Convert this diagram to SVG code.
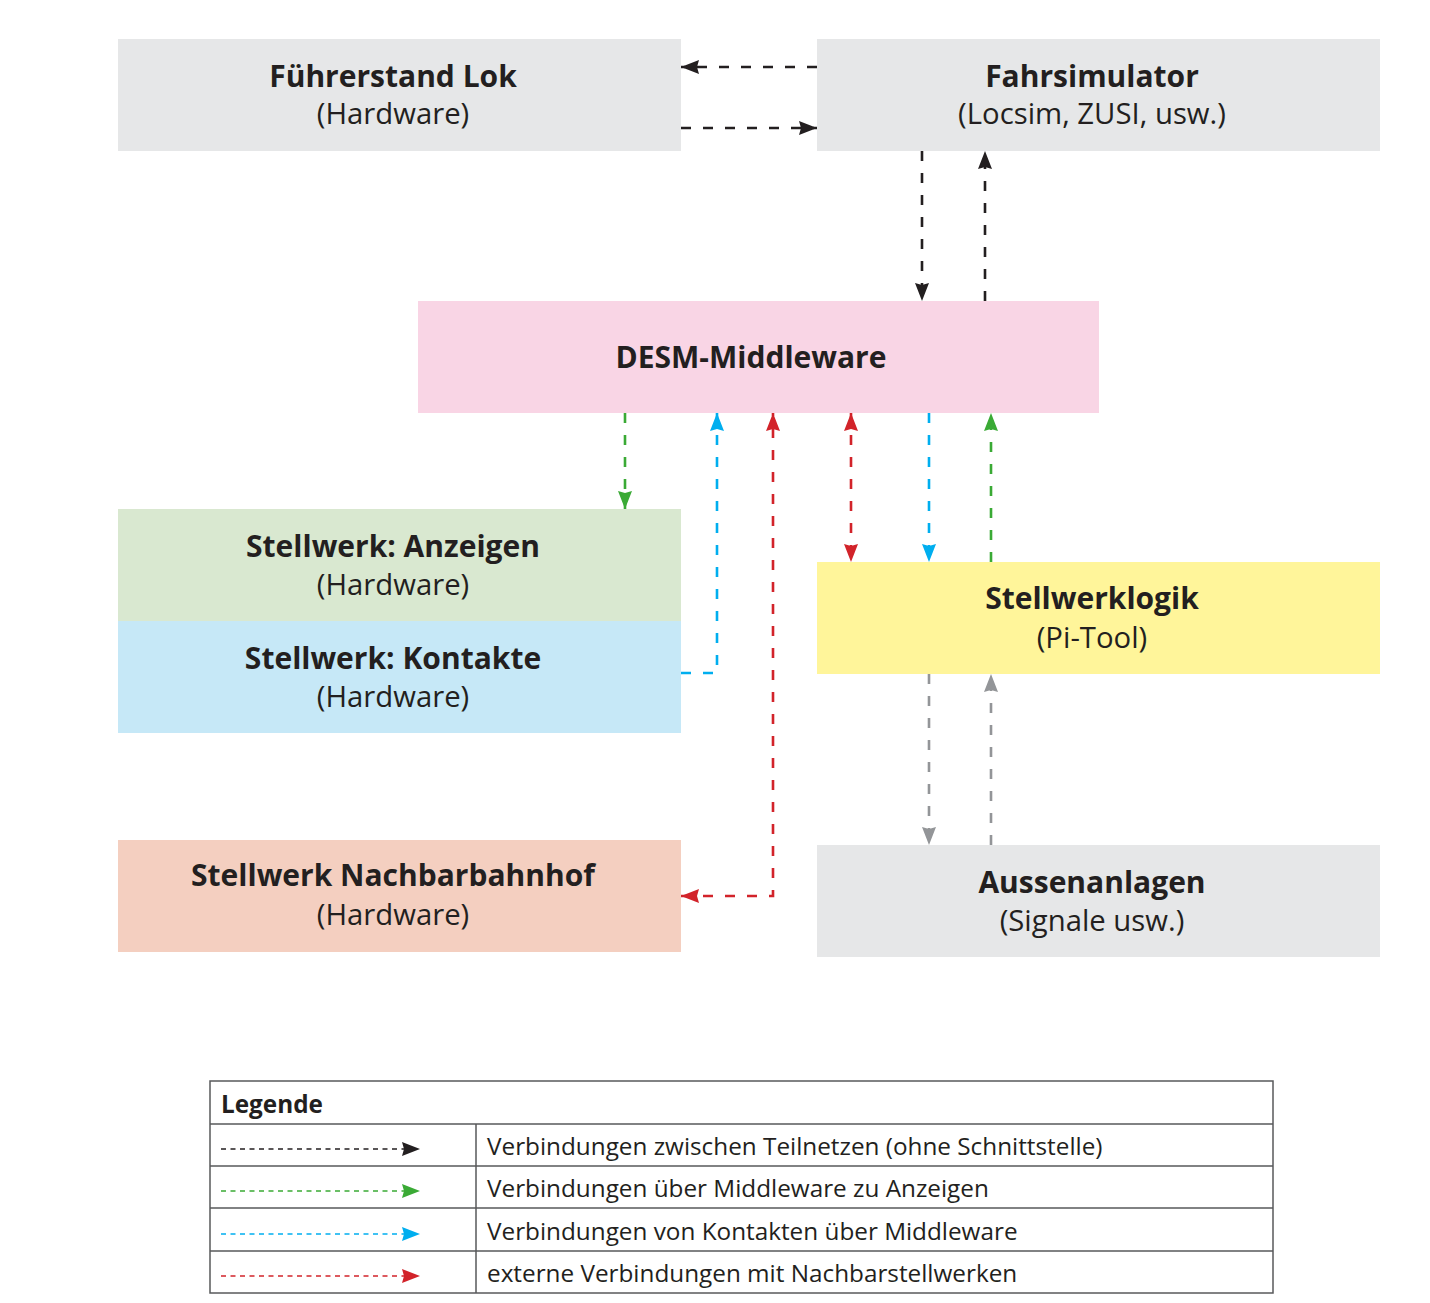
<svg xmlns="http://www.w3.org/2000/svg" width="1430" height="1303" viewBox="0 0 1430 1303">
<style>
.t{font-family:"Open Sans","Noto Sans",sans-serif;font-weight:700;font-size:30px;fill:#231f20;text-anchor:middle}
.s{font-family:"Open Sans","Noto Sans",sans-serif;font-weight:400;font-size:29.3px;fill:#231f20;text-anchor:middle}
.l{font-family:"Open Sans","Noto Sans",sans-serif;font-weight:400;font-size:24.3px;fill:#231f20}
.c{fill:none;stroke-width:2.6;stroke-dasharray:10 12}
.lg{fill:none;stroke-width:1.6;stroke-dasharray:5 4.5}
.k{stroke:#231f20}.g{stroke:#3aaa35}.b{stroke:#00aeef}.r{stroke:#d2232a}.y{stroke:#939598}
.grid{fill:none;stroke:#58595b;stroke-width:1.5}
</style>
<defs>
<marker id="ak" viewBox="0 0 18 14" refX="18" refY="7" markerWidth="18" markerHeight="14" markerUnits="userSpaceOnUse" orient="auto-start-reverse"><path d="M0,0L18,7L0,14L2,7z" fill="#231f20"/></marker>
<marker id="ag" viewBox="0 0 18 14" refX="18" refY="7" markerWidth="18" markerHeight="14" markerUnits="userSpaceOnUse" orient="auto-start-reverse"><path d="M0,0L18,7L0,14L2,7z" fill="#3aaa35"/></marker>
<marker id="ab" viewBox="0 0 18 14" refX="18" refY="7" markerWidth="18" markerHeight="14" markerUnits="userSpaceOnUse" orient="auto-start-reverse"><path d="M0,0L18,7L0,14L2,7z" fill="#00aeef"/></marker>
<marker id="ar" viewBox="0 0 18 14" refX="18" refY="7" markerWidth="18" markerHeight="14" markerUnits="userSpaceOnUse" orient="auto-start-reverse"><path d="M0,0L18,7L0,14L2,7z" fill="#d2232a"/></marker>
<marker id="ay" viewBox="0 0 18 14" refX="18" refY="7" markerWidth="18" markerHeight="14" markerUnits="userSpaceOnUse" orient="auto-start-reverse"><path d="M0,0L18,7L0,14L2,7z" fill="#939598"/></marker>
</defs>
<rect width="1430" height="1303" fill="#fff"/>
<g id="fuehrerstand"><rect x="118" y="39" width="563" height="112" fill="#e6e7e8"/><text class="t" x="393" y="87">Führerstand Lok</text><text class="s" x="393" y="124">(Hardware)</text></g>
<g id="fahrsimulator"><rect x="817" y="39" width="563" height="112" fill="#e6e7e8"/><text class="t" x="1092" y="87">Fahrsimulator</text><text class="s" x="1092" y="124">(Locsim, ZUSI, usw.)</text></g>
<g id="middleware"><rect x="418" y="301" width="681" height="112" fill="#f9d5e5"/><text class="t" x="751" y="368">DESM-Middleware</text></g>
<g id="anzeigen"><rect x="118" y="509" width="563" height="112" fill="#d9e8d0"/><text class="t" x="393" y="557">Stellwerk: Anzeigen</text><text class="s" x="393" y="595">(Hardware)</text></g>
<g id="kontakte"><rect x="118" y="621" width="563" height="112" fill="#c6e8f7"/><text class="t" x="393" y="669">Stellwerk: Kontakte</text><text class="s" x="393" y="707">(Hardware)</text></g>
<g id="stellwerklogik"><rect x="817" y="562" width="563" height="112" fill="#fff59a"/><text class="t" x="1092" y="609">Stellwerklogik</text><text class="s" x="1092" y="648">(Pi-Tool)</text></g>
<g id="nachbarbahnhof"><rect x="118" y="840" width="563" height="112" fill="#f4cfc0"/><text class="t" x="393" y="886">Stellwerk Nachbarbahnhof</text><text class="s" x="393" y="925">(Hardware)</text></g>
<g id="aussenanlagen"><rect x="817" y="845" width="563" height="112" fill="#e6e7e8"/><text class="t" x="1092" y="893">Aussenanlagen</text><text class="s" x="1092" y="931">(Signale usw.)</text></g>
<g id="connectors">
<path class="c k" d="M817,67H681" marker-end="url(#ak)"/>
<path class="c k" d="M681,128H817" marker-end="url(#ak)"/>
<path class="c k" d="M922,151V301" marker-end="url(#ak)"/>
<path class="c k" d="M985,301V151" marker-end="url(#ak)"/>
<path class="c g" d="M625,413V509" marker-end="url(#ag)"/>
<path class="c b" d="M681,673H717V413" marker-end="url(#ab)"/>
<path class="c r" d="M681,896H773V413" marker-start="url(#ar)" marker-end="url(#ar)"/>
<path class="c r" d="M851,413V562" marker-start="url(#ar)" marker-end="url(#ar)"/>
<path class="c b" d="M929,413V562" marker-end="url(#ab)"/>
<path class="c g" d="M991,562V413" marker-end="url(#ag)"/>
<path class="c y" d="M929,674V845" marker-end="url(#ay)"/>
<path class="c y" d="M991,845V674" marker-end="url(#ay)"/>
</g>
<g id="legend">
<rect class="grid" x="210" y="1081" width="1063" height="212"/>
<path class="grid" d="M210,1124H1273M210,1166H1273M210,1208H1273M210,1251H1273M476,1124V1293"/>
<text class="l" x="221" y="1113" style="font-weight:700">Legende</text>
<path class="lg k" d="M221,1149H420" marker-end="url(#ak)"/>
<path class="lg g" d="M221,1191H420" marker-end="url(#ag)"/>
<path class="lg b" d="M221,1234H420" marker-end="url(#ab)"/>
<path class="lg r" d="M221,1276H420" marker-end="url(#ar)"/>
<text class="l" x="487" y="1155">Verbindungen zwischen Teilnetzen (ohne Schnittstelle)</text>
<text class="l" x="487" y="1197">Verbindungen über Middleware zu Anzeigen</text>
<text class="l" x="487" y="1240">Verbindungen von Kontakten über Middleware</text>
<text class="l" x="487" y="1282">externe Verbindungen mit Nachbarstellwerken</text>
</g>
</svg>
